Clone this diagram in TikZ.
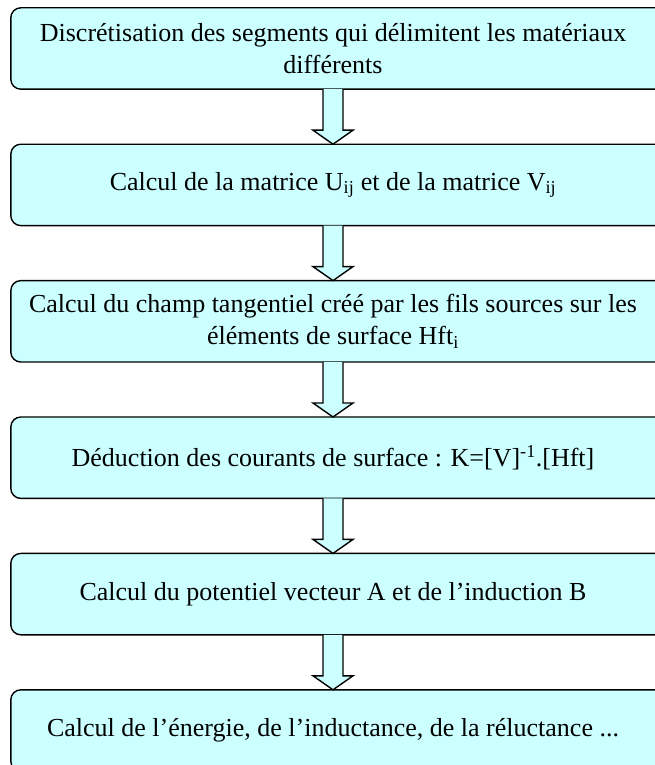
\documentclass[tikz,border=0pt]{standalone}
\usepackage{fontspec}
\setmainfont{Liberation Serif}
\usepackage{tikz}
\usetikzlibrary{positioning}
\usetikzlibrary{backgrounds}
\definecolor{cyanClair}{RGB}{204,255,255}
\tikzset{
    etape/.style={
		minimum width=644pt, minimum height=81pt, inner sep=0pt,
		align=center, font=\fontsize{26}{32}\selectfont
	}
}
\tikzset{
    cadre/.style={draw=black, fill=cyanClair, line width=1.4pt, rounded corners=10pt}
}
\tikzset{
    fleche/.style={draw=black, fill=cyanClair, line width=1.4pt, line join=miter}
}
% fleche pleine entre deux etapes
\newcommand{\flecheBloc}[2]{
	\filldraw[fleche] ([xshift=-10pt]#1.south) -- ([xshift=-10pt,yshift=14pt]#2.north)
		-- ([xshift=-20pt,yshift=14pt]#2.north) -- (#2.north)
		-- ([xshift=20pt,yshift=14pt]#2.north) -- ([xshift=10pt,yshift=14pt]#2.north)
		-- ([xshift=10pt]#1.south);
}

\begin{document}
\begin{tikzpicture}[x=1pt,y=1pt]
        \useasboundingbox (0,0) rectangle (655,-765);
        \clip (0,0) rectangle (655,-765);
        \node[etape] (e1) at (333,-48.5) {Discrétisation des segments qui délimitent les matériaux\\ différents};
        \node[etape, below=55pt of e1] (e2) {Calcul de la matrice U\textsubscript{ij} et de la matrice V\textsubscript{ij}};
        \node[etape, below=55pt of e2] (e3) {Calcul du champ tangentiel créé par les fils sources sur les\\ éléments de surface Hft\textsubscript{i}};
        \node[etape, below=55pt of e3] (e4) {Déduction des courants de surface : K=[V]\textsuperscript{-1}.[Hft]};
        \node[etape, below=55pt of e4] (e5) {Calcul du potentiel vecteur A et de l’induction B};
        \node[etape, below=55pt of e5] (e6) {Calcul de l’énergie, de l’inductance, de la réluctance ...};
        \begin{scope}[on background layer]
            \clip (0,0) rectangle (655,-765);
            \foreach \e in {e1,e2,e3,e4,e5,e6}
                \draw[cadre] (\e.north west) rectangle ([xshift=30pt]\e.south east);
        \end{scope}
        \flecheBloc{e1}{e2}
        \flecheBloc{e2}{e3}
        \flecheBloc{e3}{e4}
        \flecheBloc{e4}{e5}
        \flecheBloc{e5}{e6}
      \end{tikzpicture}
\end{document}
